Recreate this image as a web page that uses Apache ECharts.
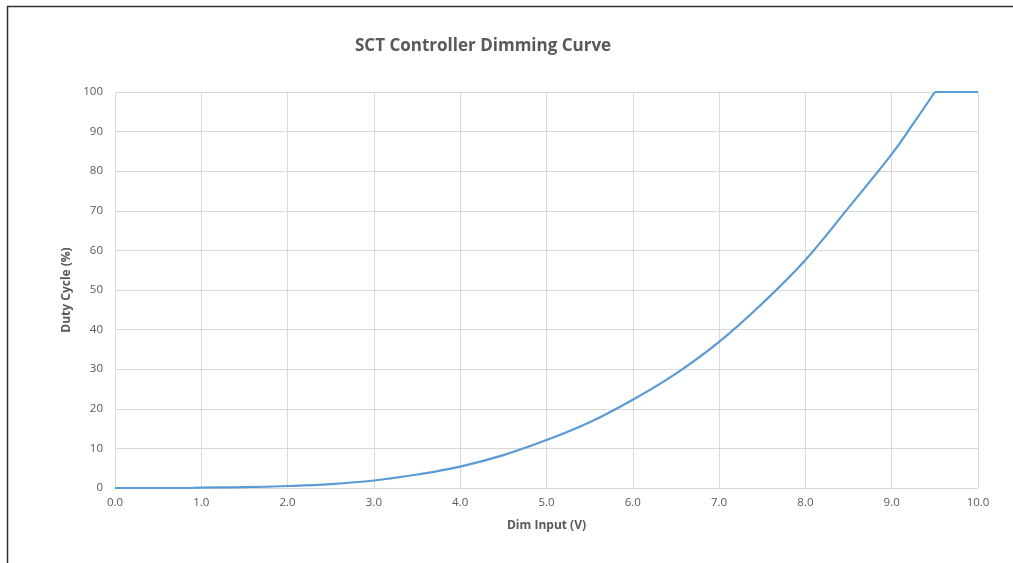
<!DOCTYPE html>
<html>
<head>
<meta charset="utf-8">
<script src="https://cdn.jsdelivr.net/npm/echarts@6/dist/echarts.min.js"></script>
<style>
html,body{margin:0;padding:0;background:#fff;}
#c{width:1013px;height:563px;}
</style>
</head>
<body>
<div id="c"></div>
<script>
var titleText = 'SCT Controller Dimming Curve';
var xName = 'Dim Input (V)';
var yName = 'Duty Cycle (%)';
// flat off region
var offInput = [0, 0.9];
var offDuty = [0, 0];
// rising curve
var curveInput = [0.9, 1.0, 1.5, 2.0, 2.5, 3.0, 3.5, 4.0, 4.5, 5.0, 5.5, 6.0, 6.5, 7.0, 7.5, 8.0, 8.5, 9.0, 9.25, 9.5];
var curveDuty = [0.05, 0.1, 0.2, 0.5, 1.0, 1.9, 3.4, 5.4, 8.3, 12.1, 16.6, 22.3, 28.9, 36.9, 46.6, 57.6, 70.8, 84.3, 92.0, 100];
// saturated region
var fullInput = [9.5, 10.0];
var fullDuty = [100, 100];

function pairs(xs, ys) { return xs.map(function (x, i) { return [x, ys[i]]; }); }
var textColor = '#595959';
var gridColor = '#d9d9d9';
var lineColor = '#5b9bd5';
var font = 'Open Sans';

var chart = echarts.init(document.getElementById('c'), null, {renderer: 'canvas'});
chart.setOption({
  animation: false,
  backgroundColor: '#fff',
  title: {
    text: titleText,
    left: 350,
    top: 33,
    textStyle: {color: textColor, fontFamily: font, fontWeight: 'bold', fontSize: 17}
  },
  graphic: [
    {type: 'line', shape: {x1: 7, y1: 6.5, x2: 1013, y2: 6.5}, style: {stroke: '#333', lineWidth: 1.5}},
    {type: 'line', shape: {x1: 7.5, y1: 6, x2: 7.5, y2: 563}, style: {stroke: '#333', lineWidth: 1.5}}
  ],
  grid: {left: 115, right: 35, top: 92, bottom: 75, containLabel: false},
  xAxis: {
    type: 'value', min: 0, max: 10, interval: 1,
    name: xName, nameLocation: 'middle', nameGap: 32,
    nameTextStyle: {color: textColor, fontFamily: font, fontWeight: 'bold', fontSize: 12},
    axisLine: {show: true, lineStyle: {color: gridColor}},
    axisTick: {show: false},
    axisLabel: {color: textColor, fontFamily: font, fontSize: 11.5, margin: 9,
      formatter: function (v) { return v.toFixed(1); }},
    splitLine: {show: true, lineStyle: {color: gridColor, width: 1}}
  },
  yAxis: {
    type: 'value', min: 0, max: 100, interval: 10,
    name: yName, nameLocation: 'middle', nameGap: 30, nameRotate: 90,
    nameTextStyle: {color: textColor, fontFamily: font, fontWeight: 'bold', fontSize: 12},
    axisLine: {show: false},
    axisTick: {show: false},
    axisLabel: {color: textColor, fontFamily: font, fontSize: 11.5, margin: 12},
    splitLine: {show: true, lineStyle: {color: gridColor, width: 1}}
  },
  series: [{
    type: 'line', data: pairs(offInput, offDuty), showSymbol: false,
    lineStyle: {color: lineColor, width: 2.2}, itemStyle: {color: lineColor}
  }, {
    type: 'line', data: pairs(curveInput, curveDuty), showSymbol: false, smooth: 0.4,
    lineStyle: {color: lineColor, width: 2.2}, itemStyle: {color: lineColor}
  }, {
    type: 'line', data: pairs(fullInput, fullDuty), showSymbol: false,
    lineStyle: {color: lineColor, width: 2.2}, itemStyle: {color: lineColor}
  }]
});
</script>
</body>
</html>
